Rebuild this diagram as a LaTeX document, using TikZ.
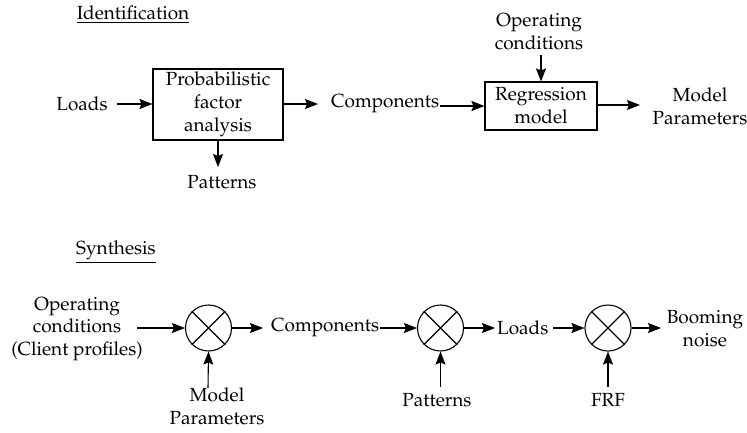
\documentclass[tikz,border=0pt]{standalone}
\usepackage[T1]{fontenc}
\usepackage{mathpazo}
\usetikzlibrary{arrows.meta}
\begin{document}
\begin{tikzpicture}[x=1pt,y=-1pt,
  every node/.style={font=\fontsize{19}{22.8}\selectfont, inner sep=0pt, align=center},
  blk/.style={draw, line width=1.1pt, minimum width=#1},
  mix/.style={draw, circle, line width=1.1pt, minimum size=46pt},
  arr/.style={line width=1.1pt, -{Stealth[length=13pt,width=10pt,inset=2pt]}},
  lbl/.style={}]
\useasboundingbox (0,0) rectangle (747,432);
% Identification
\node (tid) at (133,15) {\underline{Identification}};
\node[lbl] (ldin) at (82,104) {Loads};
\node[blk=130pt, minimum height=71pt] (pfa) at (218,104.5) {Probabilistic\\factor\\analysis};
\node[lbl,anchor=west] (comp1) at (331,104) {Components};
\node[lbl] (pat1) at (222,182) {Patterns};
\node[blk=112pt, minimum height=48pt] (reg) at (541,106) {Regression\\model};
\node[lbl] (opc1) at (539,32) {Operating\\conditions};
\node[lbl] (mp1) at (700,106) {Model\\Parameters};
\coordinate (a1) at (117,104);
\coordinate (a2) at (318,104);
\coordinate (a3) at (218,167);
\coordinate (a4) at (541,55);
\coordinate (a5) at (640,105);
\draw[arr] (a1) -- (pfa.west|-a1);
\draw[arr] (pfa.east|-a2) -- (a2);
\draw[arr] (pfa.south-|a3) -- (a3);
\draw[arr] (comp1.east|-reg.west) ++(1,0) -- (reg.west);
\draw[arr] (a4) -- (reg.north-|a4);
\draw[arr] (reg.east|-a5) -- (a5);
% Synthesis
\node (tsy) at (116,252) {\underline{Synthesis}};
\node[lbl] (opc2) at (77,329) {Operating\\conditions\\(Client profiles)};
\node[mix] (m1) at (208.5,328) {};
\node[lbl] (mp2) at (217,406) {Model\\Parameters};
\node[lbl,anchor=west] (comp2) at (271,328) {Components};
\node[mix] (m2) at (440.5,328) {};
\node[lbl] (pat2) at (437,400) {Patterns};
\node[lbl,anchor=west] (ld2) at (497,328) {Loads};
\node[mix] (m3) at (608,328) {};
\node[lbl] (frf) at (608,400) {FRF};
\node[lbl] (boom) at (705,329) {Booming\\noise};
\foreach \m in {m1,m2,m3}{
  \draw[line width=1.1pt] (\m.45) -- (\m.225) (\m.135) -- (\m.315);
}
\coordinate (b1) at (137,328);
\coordinate (b2) at (263,328);
\coordinate (b3) at (208,388);
\coordinate (b4) at (440.5,387);
\coordinate (b5) at (495,328);
\coordinate (b6) at (553,328);
\coordinate (b7) at (608,387);
\coordinate (b8) at (661,328);
\draw[arr] (b1) -- (m1.west);
\draw[arr] (m1.east) -- (b2);
\draw[arr] (b3) -- (m1.south);
\draw[arr] (comp2.east) ++(1,0) -- (m2.west);
\draw[arr] (m2.east) -- (b5);
\draw[arr] (b4) -- (m2.south);
\draw[arr] (b6) -- (m3.west);
\draw[arr] (m3.east) -- (b8);
\draw[arr] (b7) -- (m3.south);
\end{tikzpicture}
\end{document}
